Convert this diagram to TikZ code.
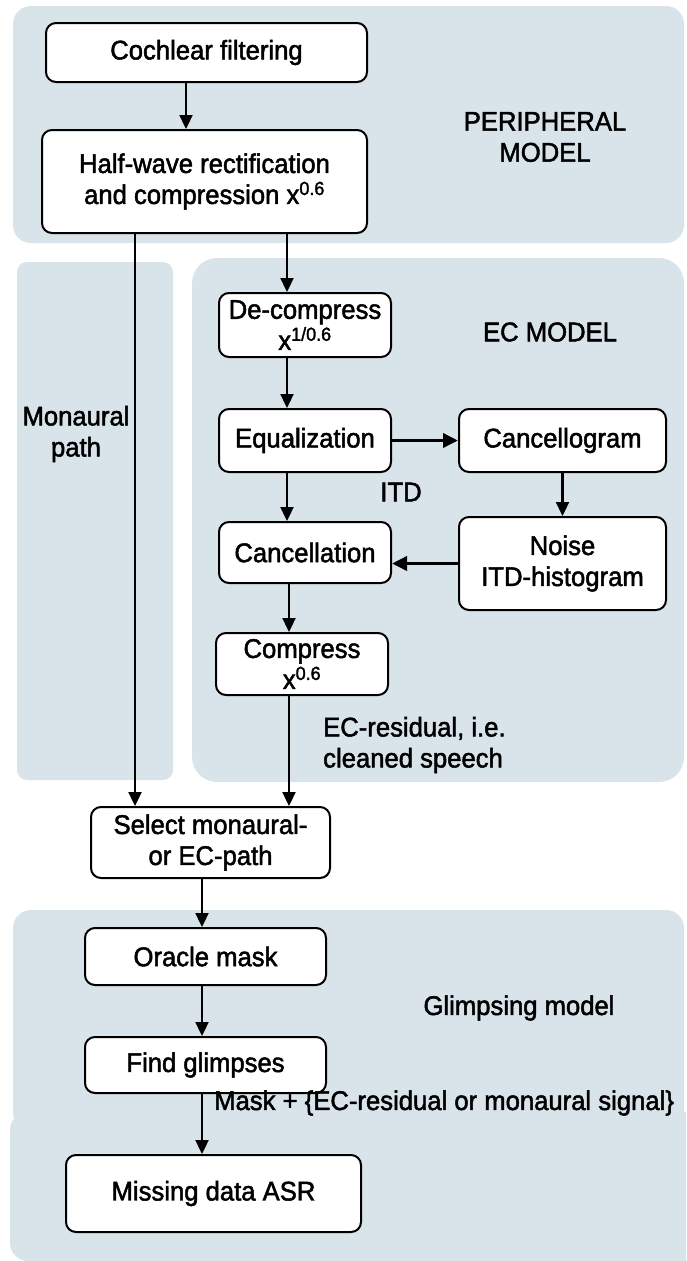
\documentclass[tikz,border=0pt]{standalone}
\usepackage{fontspec}
\setmainfont[FakeStretch=0.95,FakeBold=1.8]{Liberation Sans}
\usetikzlibrary{arrows.meta}
\definecolor{regionfill}{RGB}{217,227,234}
\begin{document}
\begin{tikzpicture}[x=1pt,y=-1pt,
  region/.style={fill=regionfill, draw=none},
  blk/.style={draw, line width=2pt, fill=white, rounded corners=10pt, align=center, inner sep=0pt, font=\fontsize{27}{31}\selectfont},
  lbl/.style={align=center, inner sep=0pt, font=\fontsize{27}{31}\selectfont},
  arr/.style={line width=2.3pt, -{Triangle[length=14pt,width=13pt]}},
  harr/.style={line width=3.5pt, -{Triangle[length=15pt,width=14pt]}},
]
\useasboundingbox (0,0) rectangle (686,1261);
\begin{scope}
\clip (0,0) rectangle (686,1261);
% regions
\fill[region, rounded corners=18pt] (13,6) rectangle (684,243);
\fill[region, rounded corners=10pt] (17,262) rectangle (173,780);
\fill[region, rounded corners=25pt] (192,258) rectangle (684,782);
\fill[region, rounded corners=18pt] (13,910) rectangle (684,1130);
\fill[region, rounded corners=18pt] (10,1112) rectangle (720,1261);
\end{scope}

% boxes
\node[blk, minimum width=321pt, minimum height=59pt] (coch) at (206.5,52.5) {Cochlear filtering};
\node[blk, minimum width=325pt, minimum height=103pt] (half) at (204.5,181.5) {Half-wave rectification\\and compression x\textsuperscript{0.6}};
\node[blk, minimum width=172pt, minimum height=64pt] (decomp) at (305,325) {De-compress\\x\textsuperscript{1/0.6}};
\node[blk, minimum width=172pt, minimum height=63pt] (equal) at (305,440.5) {Equalization};
\node[blk, minimum width=207pt, minimum height=63pt] (cgram) at (562.5,440.5) {Cancellogram};
\node[blk, minimum width=172pt, minimum height=61pt] (canc) at (305,552.5) {Cancellation};
\node[blk, minimum width=207pt, minimum height=93pt] (noise) at (562.5,563.5) {Noise\\ITD-histogram};
\node[blk, minimum width=172pt, minimum height=62pt] (comp) at (302,664) {Compress\\x\textsuperscript{0.6}};
\node[blk, minimum width=239pt, minimum height=71pt] (select) at (210.5,842.5) {Select monaural-\\or EC-path};
\node[blk, minimum width=241pt, minimum height=57pt] (oracle) at (205.5,956.5) {Oracle mask};
\node[blk, minimum width=241pt, minimum height=56pt] (find) at (205.5,1065) {Find glimpses};
\node[blk, minimum width=295pt, minimum height=77pt] (missing) at (213.5,1193.5) {Missing data ASR};

% labels
\node[lbl] (lperiph) at (545,137) {PERIPHERAL\\MODEL};
\node[lbl] (lec) at (550,332) {EC MODEL};
\node[lbl] (lmono) at (76,434) {Monaural\\path};
\node[lbl] (litd) at (401,492) {ITD};
\node[lbl, align=left, anchor=west] (lres) at (323,745) {EC-residual, i.e.\\cleaned speech};
\node[lbl] (lglimp) at (519,1008) {Glimpsing model};
\node[lbl, anchor=west] (lmask) at (214,1103) {Mask + \{EC-residual or monaural signal\}};

% x positions of vertical connectors
\coordinate (xa) at (186,0);
\coordinate (xl) at (135,0);
\coordinate (xe) at (287,0);
\coordinate (xc) at (289,0);
\coordinate (xs) at (202,0);

% connectors
\draw[arr] (xa |- coch.south) -- (xa |- half.north);
\draw[arr] (xl |- half.south) -- (xl |- select.north);
\draw[arr] (xe |- half.south) -- (xe |- decomp.north);
\draw[arr] (xe |- decomp.south) -- (xe |- equal.north);
\draw[harr] (equal.east) -- (cgram.west);
\draw[arr] (xe |- equal.south) -- (xe |- canc.north);
\draw[arr] (cgram.south) -- (noise.north);
\draw[harr] (noise.west) -- (noise.west -| canc.east);
\draw[arr] (xc |- canc.south) -- (xc |- comp.north);
\draw[arr] (xc |- comp.south) -- (xc |- select.north);
\draw[arr] (xs |- select.south) -- (xs |- oracle.north);
\draw[arr] (xs |- oracle.south) -- (xs |- find.north);
\draw[arr] (xs |- find.south) -- (xs |- missing.north);
\end{tikzpicture}
\end{document}
